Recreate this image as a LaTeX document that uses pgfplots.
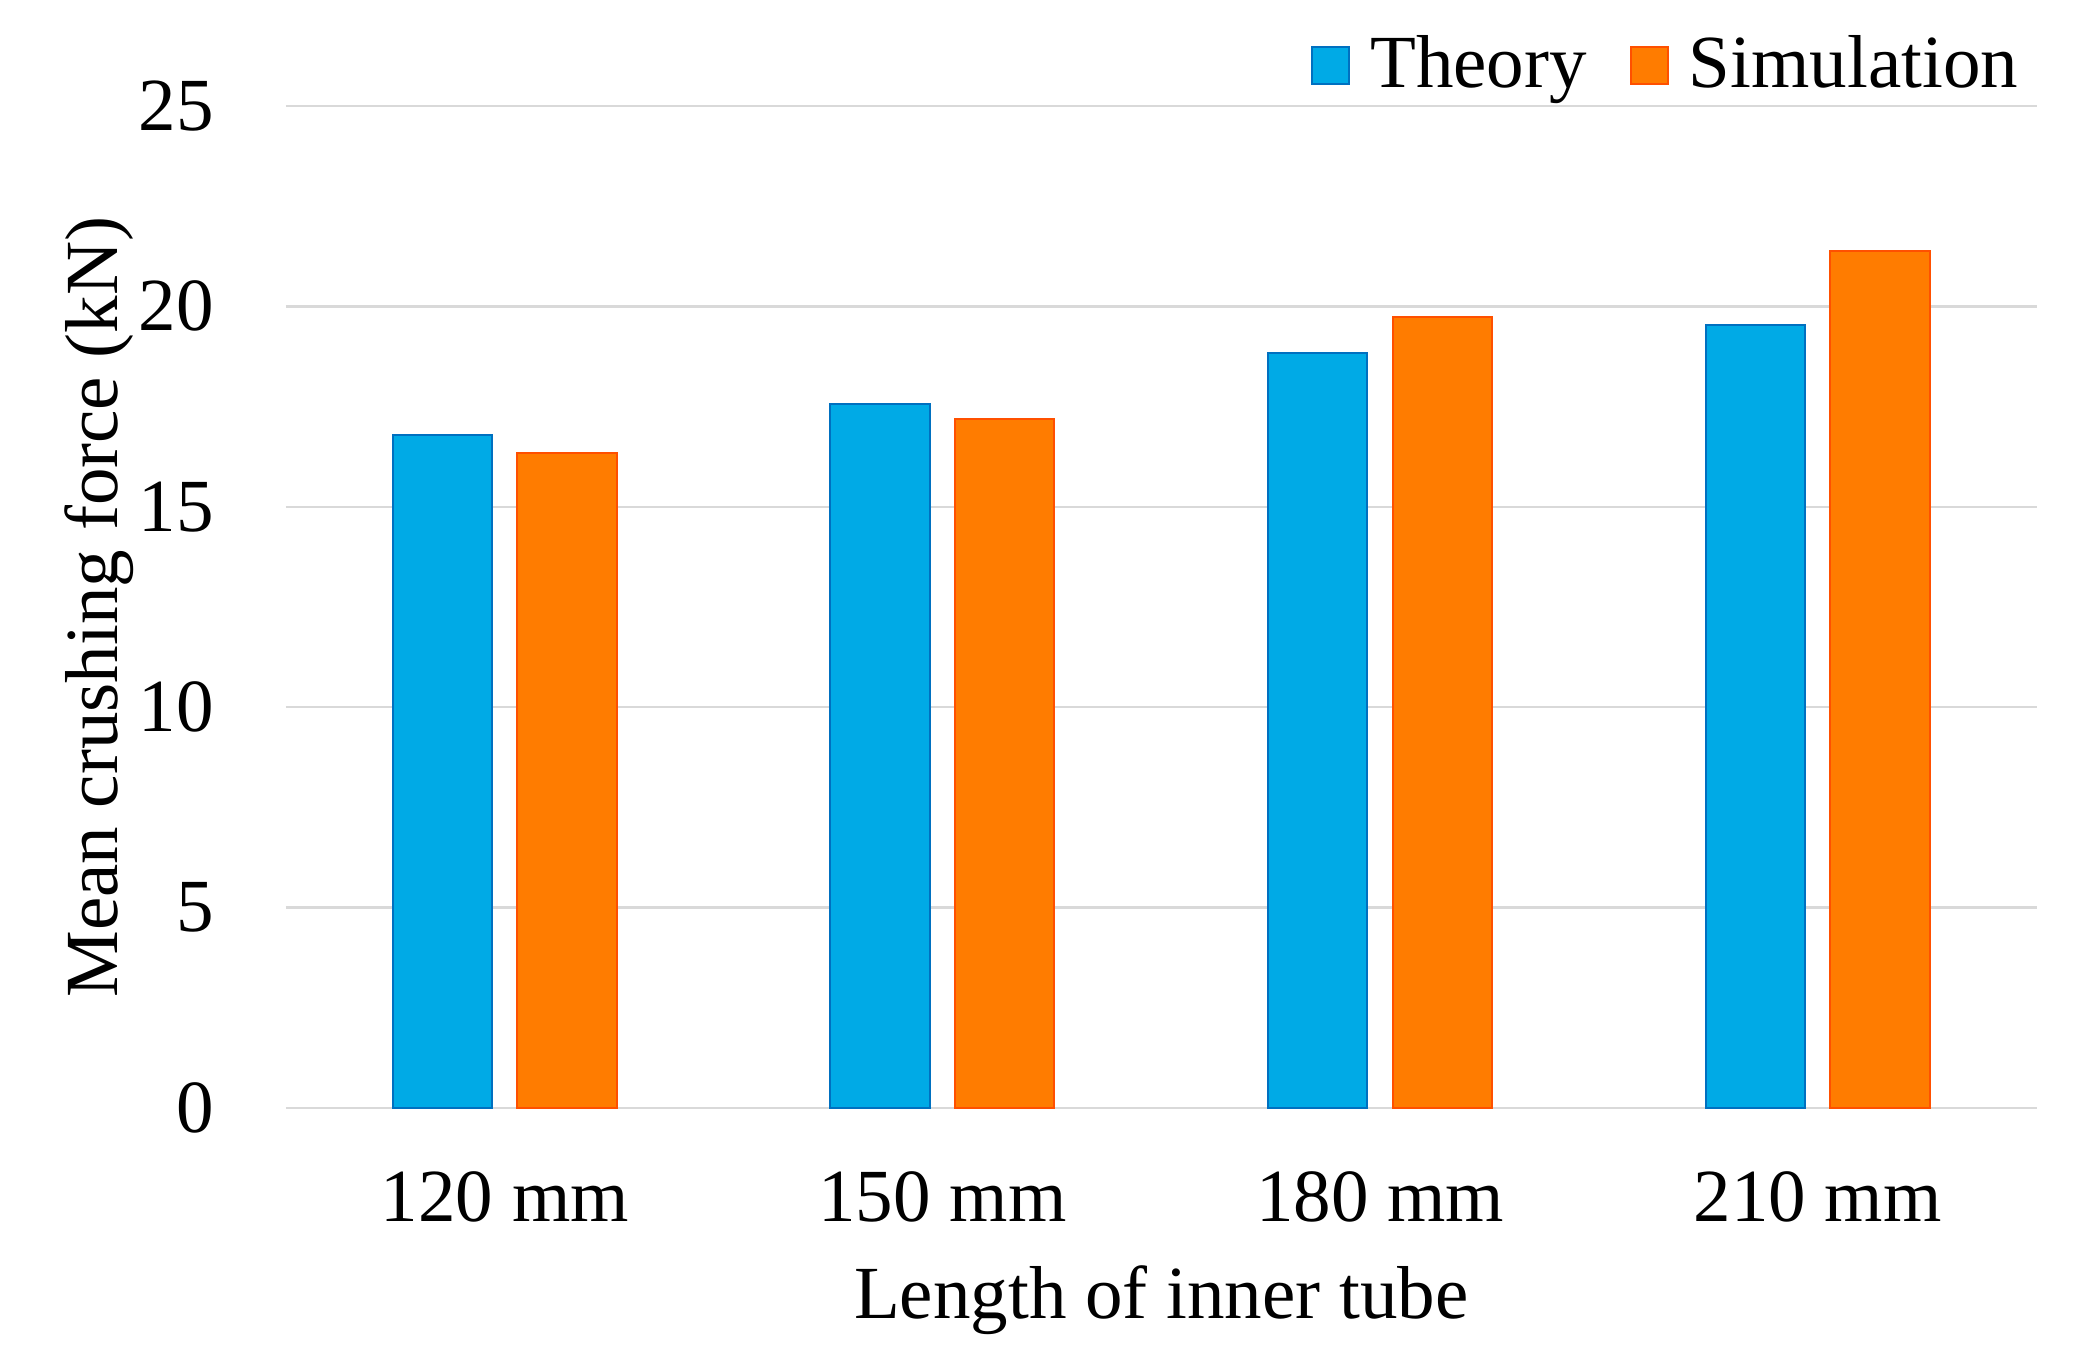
\documentclass[border=0pt]{standalone}
\usepackage{fontspec}
\setmainfont{Liberation Serif}
\usepackage{pgfplots}
\pgfplotsset{compat=1.18}

\definecolor{theoryfill}{RGB}{0,170,230}
\definecolor{theoryline}{RGB}{0,112,192}
\definecolor{simfill}{RGB}{255,124,0}
\definecolor{simline}{RGB}{255,80,0}
\definecolor{gridgray}{RGB}{217,217,217}

\newcommand{\chartfont}{\fontsize{15}{18}\selectfont}

\pgfplotsset{
    sqlegend/.style={legend image code/.code={\draw[##1] (0pt,-3.8pt) rectangle (7.4pt,3.6pt);}},
}

\begin{document}
\begin{tikzpicture}
\begin{axis}[
    scale only axis,
    width=350.1pt, height=200.4pt,
    xmin=-0.5, xmax=3.5,
    ymin=0, ymax=25,
    clip=false,
    ybar,
    bar width=0.227,
    xtick={0,1,2,3},
    xticklabels={120 mm,150 mm,180 mm,210 mm},
    ytick={0,5,...,25},
    axis line style={draw=none},
    major tick length=0pt,
    ymajorgrids,
    grid style={gridgray, line width=0.5pt},
    /pgf/number format/assume math mode=true,
    tick label style={font=\chartfont},
    yticklabel style={anchor=east, inner sep=0pt, xshift=-14.2pt},
    xticklabel style={anchor=base, inner sep=0pt, yshift=-22.8pt},
    xlabel={Length of inner tube},
    ylabel={Mean crushing force (kN)},
    every axis x label/.style={at={(axis description cs:0.5,-0.2096)}, anchor=base, font=\chartfont},
    every axis y label/.style={at={(axis description cs:-0.09597,0.5)}, rotate=90, anchor=base, font=\chartfont},
    legend columns=2,
    legend cell align=left,
    legend style={draw=none, fill=none, font=\chartfont,
        at={(axis description cs:0.990,1.0411)}, anchor=east, inner sep=0pt,
        nodes={inner sep=0pt},
        /tikz/every odd column/.append style={column sep=4pt},
        /tikz/every even column/.append style={column sep=8.6pt}},
]
\addplot[fill=theoryfill, draw=theoryline, line width=0.4pt, bar shift=-0.1425, sqlegend]
    coordinates {(0,16.79) (1,17.56) (2,18.84) (3,19.54)};
\addlegendentry{Theory}
\addplot[fill=simfill, draw=simline, line width=0.4pt, bar shift=0.1425, sqlegend]
    coordinates {(0,16.35) (1,17.20) (2,19.74) (3,21.39)};
\addlegendentry{Simulation}
\path (axis description cs:-0.16338,-0.24451) rectangle (axis description cs:1.0237,1.10579);
\end{axis}
\end{tikzpicture}
\end{document}
